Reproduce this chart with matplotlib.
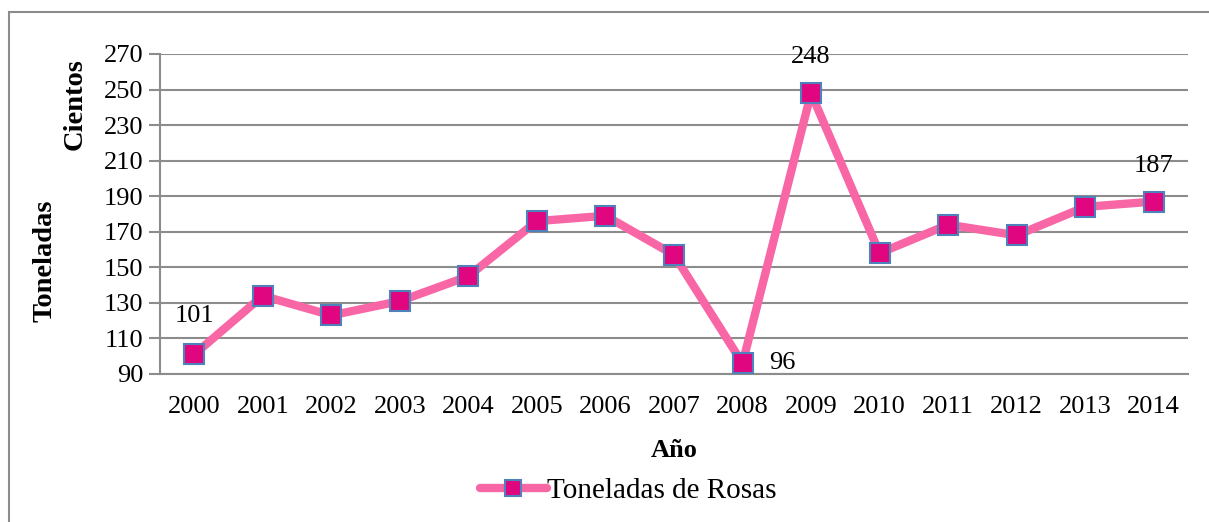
import matplotlib
matplotlib.use("Agg")
import matplotlib.pyplot as plt
from matplotlib.patches import Rectangle

years = ["2000", "2001", "2002", "2003", "2004", "2005", "2006", "2007",
         "2008", "2009", "2010", "2011", "2012", "2013", "2014"]
toneladas = [101, 134, 123, 131, 145, 176, 179, 157, 96, 248, 158, 174, 168, 184, 187]
yticks = [90, 110, 130, 150, 170, 190, 210, 230, 250, 270]
series_name = "Toneladas de Rosas"

plt.rcParams['font.family'] = ['Liberation Serif', 'DejaVu Serif']
FS = 19

W, H = 1209, 522
fig = plt.figure(figsize=(W / 100, H / 100), dpi=100)
ax = fig.add_axes([160 / W, 1 - 374 / H, (1188 - 160) / W, (374 - 54) / H])

# outer frame
fig.patches.append(Rectangle((9 / W, -0.05), 1.2, 1 - 12 / H + 0.05, transform=fig.transFigure,
                             fill=False, edgecolor='#8c8c8c', linewidth=1.5, zorder=0))

x = list(range(len(years)))
ax.plot(x, toneladas, color='#f966a6', linewidth=6, marker='s', markersize=15,
        markerfacecolor='#e0067f', markeredgecolor='#4f81bd', markeredgewidth=1.5,
        label=series_name, solid_capstyle='round', zorder=3, clip_on=False)

ax.set_xlim(-0.5, len(years) - 0.5)
ax.set_ylim(90, 270)
ax.set_yticks(yticks)
ax.set_xticks(x)
ax.set_xticklabels(years)
ax.tick_params(axis='y', length=8, width=1.5, color='#8c8c8c', labelsize=FS, pad=4)
ax.tick_params(axis='x', length=0, labelsize=FS, pad=16)
for v in yticks:
    ax.axhline(v, color='#8c8c8c', linewidth=1.5, zorder=1)
for s in ['top', 'right']:
    ax.spines[s].set_visible(False)
for s in ['left', 'bottom']:
    ax.spines[s].set_color('#8c8c8c')
    ax.spines[s].set_linewidth(1.5)

# data labels
ax.annotate(str(toneladas[0]), (0, toneladas[0]), xytext=(0, 20), textcoords='offset points',
            ha='center', va='bottom', fontsize=FS)
ax.annotate(str(toneladas[9]), (9, toneladas[9]), xytext=(0, 18), textcoords='offset points',
            ha='center', va='bottom', fontsize=FS)
ax.annotate(str(toneladas[8]), (8, toneladas[8]), xytext=(19, 0), textcoords='offset points',
            ha='left', va='center', fontsize=FS)
ax.annotate(str(toneladas[14]), (14, toneladas[14]), xytext=(0, 18), textcoords='offset points',
            ha='center', va='bottom', fontsize=FS)

ax.set_xlabel("Año", fontsize=FS, fontweight='bold', labelpad=15)
fig.text(45 / W, 1 - 261 / H, "Toneladas", rotation=90, ha='center', va='center',
         fontsize=20.5, fontweight='bold')
fig.text(75 / W, 1 - 104 / H, "Cientos", rotation=90, ha='center', va='center',
         fontsize=20.5, fontweight='bold')

leg = fig.legend(loc='center', bbox_to_anchor=(628 / W, 1 - 491 / H), frameon=False,
                 fontsize=21, handlelength=2.3, handletextpad=0.0, markerscale=0.8)

fig.savefig("out.png", dpi=100)
